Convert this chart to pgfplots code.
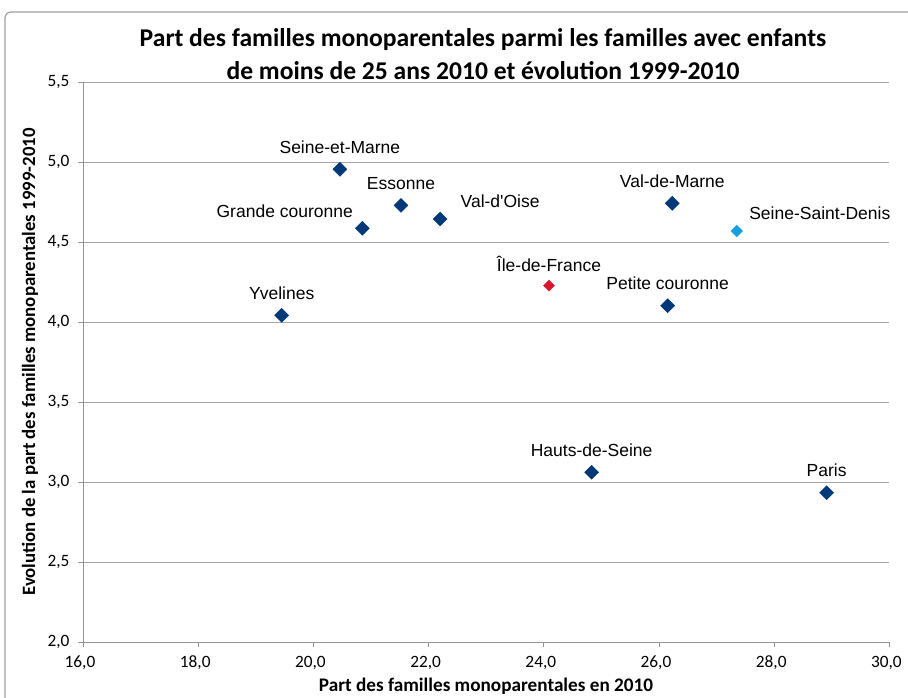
\documentclass[border=0pt]{standalone}
\usepackage{pgfplots}
\usepackage{pgfplotstable}
\pgfplotsset{compat=1.18}
\usepackage{fontspec}
\setmainfont{Liberation Sans}
\newfontfamily\calibri{Carlito}
\definecolor{darkblue}{RGB}{0,56,120}
\definecolor{idfred}{RGB}{220,20,45}
\definecolor{ssdblue}{RGB}{25,160,220}
\definecolor{gridgray}{RGB}{165,165,165}

\pgfplotstableread{
x y label
20.46 4.956 {Seine-et-Marne}
21.52 4.731 Essonne
19.45 4.044 Yvelines
26.23 4.744 Val-de-Marne
26.15 4.104 {Petite couronne}
24.83 3.063 Hauts-de-Seine
28.91 2.935 Paris
}\abovetab

\pgfplotstableread{
x y label
22.20 4.646 {Val-d\textquotesingle Oise}
}\valtab

\pgfplotstableread{
x y label
20.85 4.588 {Grande couronne}
}\gctab

\pgfplotstableread{
x y label
24.09 4.229 Île-de-France
}\idftab

\pgfplotstableread{
x y label
27.35 4.571 Seine-Saint-Denis
}\ssdtab

\pgfplotsset{
  dmark/.style={only marks, mark=square*, every mark/.append style={rotate=45},
    nodes near coords, point meta=explicit symbolic},
}

\begin{document}
\begin{tikzpicture}[x=1pt,y=1pt]
\useasboundingbox (0,0) rectangle (908,697);
\draw[gray!75, line width=1.2pt, rounded corners=6pt] (930,685) -- (5,685) -- (5,-30);

\node[font=\calibri\bfseries\fontsize{25.6}{30}\selectfont] at (483,657) {Part des familles monoparentales parmi les familles avec enfants};
\node[font=\calibri\bfseries\fontsize{25.6}{30}\selectfont] at (483,626) {de moins de 25 ans 2010 et évolution 1999-2010};
\node[font=\calibri\bfseries\fontsize{19.2}{22}\selectfont, anchor=base, inner sep=0pt] at (486,5.5) {Part des familles monoparentales en 2010};
\node[font=\calibri\bfseries\fontsize{18.8}{22}\selectfont, rotate=90] at (30,335) {Evolution de la part des familles monoparentales 1999-2010};

\begin{axis}[
  at={(83pt,54.7pt)}, anchor=south west,
  scale only axis, width=806.4pt, height=560pt,
  xmin=16, xmax=30, ymin=2, ymax=5.5,
  xtick={16,18,...,30}, ytick={2,2.5,...,5.5},
  axis x line*=bottom, axis y line*=left,
  axis line style={draw=gray!85, line width=0.8pt},
  ymajorgrids, major grid style={draw=gridgray, line width=0.8pt},
  tick align=outside, major tick length=5pt,
  tick style={draw=gray!85, line width=0.8pt},
  /pgf/number format/.cd, fixed, fixed zerofill, precision=1, use comma, assume math mode=true,
  /pgfplots/.cd,
  ticklabel style={font=\calibri\fontsize{17.3}{20}\selectfont},
  xticklabel style={yshift=-5pt, xshift=-3pt},
  yticklabel style={xshift=-5pt},
  clip=false,
]
\addplot[dmark, mark size=4.95pt, color=darkblue,
  every node near coord/.append style={font=\fontsize{17.5}{20}\selectfont, text=black, anchor=center, yshift=22pt}]
  table[x=x, y=y, meta=label] {\abovetab};
\addplot[dmark, mark size=4.95pt, color=darkblue,
  every node near coord/.append style={font=\fontsize{17.5}{20}\selectfont, text=black, anchor=west, xshift=17pt, yshift=18pt}]
  table[x=x, y=y, meta=label] {\valtab};
\addplot[dmark, mark size=4.95pt, color=darkblue,
  every node near coord/.append style={font=\fontsize{17.5}{20}\selectfont, text=black, anchor=east, xshift=-6pt, yshift=17pt}]
  table[x=x, y=y, meta=label] {\gctab};
\addplot[dmark, mark size=3.9pt, color=idfred,
  every node near coord/.append style={font=\fontsize{17.5}{20}\selectfont, text=black, anchor=center, yshift=22pt}]
  table[x=x, y=y, meta=label] {\idftab};
\addplot[dmark, mark size=4.1pt, color=ssdblue,
  every node near coord/.append style={font=\fontsize{17.5}{20}\selectfont, text=black, anchor=west, xshift=9pt, yshift=18pt}]
  table[x=x, y=y, meta=label] {\ssdtab};
\end{axis}
\end{tikzpicture}
\end{document}
